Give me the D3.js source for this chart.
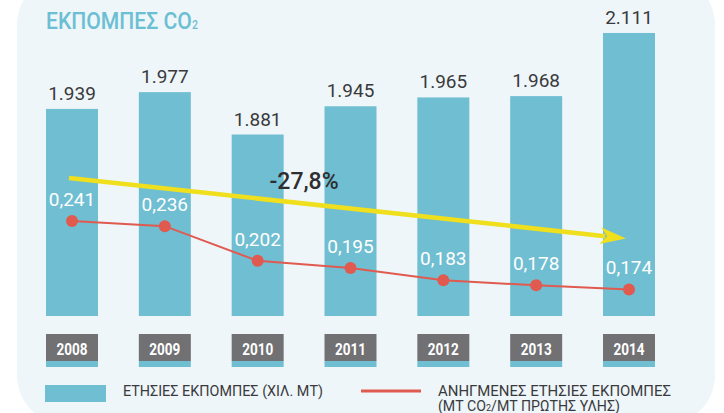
<!DOCTYPE html>
<html>
<head>
<meta charset="utf-8">
<script src="https://cdn.jsdelivr.net/npm/d3@7"></script>
<style>
  html, body { margin: 0; padding: 0; background: #fff; }
  svg { display: block; }
  .narrow { font-family: Roboto, 'Noto Sans', sans-serif; }
  .num { font-family: Roboto, 'Noto Sans', sans-serif; }
</style>
</head>
<body>
<svg id="chart"></svg>
<script>
// data
const years = ["2008", "2009", "2010", "2011", "2012", "2013", "2014"];
const emissions = [1939, 1977, 1881, 1945, 1965, 1968, 2111];   // χιλ. ΜΤ
const intensity = [0.241, 0.236, 0.202, 0.195, 0.183, 0.178, 0.174]; // ΜΤ CO2 / ΜΤ πρώτης ύλης

const width = 724;
const height = 413;
const barColor = "#70bed1";
const lineColor = "#e05a50";
const textDark = "#3a3a3c";

const locale = d3.formatLocale({decimal: ",", thousands: ".", grouping: [3], currency: ["", "€"], minus: "-"});
const fmtInt = locale.format(",d");
const fmt3 = locale.format(".3f");
const fmt1 = locale.format(".1f");

const svg = d3.select("#chart")
    .attr("width", width)
    .attr("height", height);

// panel background
svg.append("rect")
    .attr("x", 17)
    .attr("y", -25)
    .attr("width", 698)
    .attr("height", 450)
    .attr("rx", 50)
    .attr("fill", "#eef6fa");

// title, squeezed horizontally to look condensed
const titleG = svg.append("g");
const title = titleG.append("text")
    .attr("class", "narrow")
    .attr("font-size", 24)
    .attr("font-weight", 500)
    .attr("fill", "#6cbfd3");
title.append("tspan").text("ΕΚΠΟΜΠΕΣ CO");
title.append("tspan").attr("font-size", 12).text("2");
const tw = title.node().getComputedTextLength();
titleG.attr("transform", `translate(46,29) scale(${152 / tw},1)`);

var x = d3.scaleBand()
    .domain(years)
    .range([46, 655])
    .paddingInner(0.44)
    .paddingOuter(0);

var yBar = d3.scaleLinear().domain([1470, 2120]).range([316, 29]);
var yLine = d3.scaleLinear().domain([0.17, 0.245]).range([293.5, 217]);

const rows = years.map((y, i) => ({year: y, value: emissions[i], ratio: intensity[i]}));

// bars
svg.selectAll(".bar")
    .data(rows)
    .enter()
    .append("rect")
    .attr("class", "bar")
    .attr("x", d => x(d.year))
    .attr("y", d => yBar(d.value))
    .attr("width", x.bandwidth())
    .attr("height", d => yBar.range()[0] - yBar(d.value))
    .attr("fill", barColor);

svg.selectAll(".barLabel")
    .data(rows)
    .enter()
    .append("text")
    .attr("class", "barLabel num")
    .attr("x", d => x(d.year) + x.bandwidth() / 2)
    .attr("y", d => yBar(d.value) - 9)
    .attr("text-anchor", "middle")
    .attr("font-size", 19)
    .attr("fill", textDark)
    .text(d => fmtInt(d.value));

// year boxes
const yearBox = svg.selectAll(".yearBox")
    .data(rows)
    .enter()
    .append("g")
    .attr("class", "yearBox")
    .attr("transform", d => `translate(${x(d.year)},334)`);
yearBox.append("rect")
    .attr("width", x.bandwidth())
    .attr("height", 27)
    .attr("fill", "#717174");
yearBox.append("rect")
    .attr("y", 27)
    .attr("width", x.bandwidth())
    .attr("height", 6)
    .attr("fill", barColor);
yearBox.append("text")
    .attr("class", "narrow")
    .attr("x", (x.bandwidth() - 31) / 2)
    .attr("y", 21)
    .attr("font-size", 16)
    .attr("font-weight", "bold")
    .attr("fill", "#fff")
    .attr("textLength", 31)
    .attr("lengthAdjust", "spacingAndGlyphs")
    .text(d => d.year);

// trend arrow
const cx = d => x(d) + x.bandwidth() / 2;
const ax0 = cx(years[0]) - 3, ay0 = yLine(intensity[0]) - 43;
const ax1 = cx(years[years.length - 1]) - 3, ay1 = yLine(intensity[intensity.length - 1]) - 51;
const ang = Math.atan2(ay1 - ay0, ax1 - ax0);
const headLen = 23, headHalf = 8.5;
const bx = ax1 - headLen * Math.cos(ang), by = ay1 - headLen * Math.sin(ang);
svg.append("line")
    .attr("x1", ax0).attr("y1", ay0)
    .attr("x2", bx + 2 * Math.cos(ang)).attr("y2", by + 2 * Math.sin(ang))
    .attr("stroke", "#efdf1d")
    .attr("stroke-width", 4.5);
svg.append("path")
    .attr("d", d3.line()([
        [ax1, ay1],
        [bx - headHalf * Math.sin(ang) - 3 * Math.cos(ang), by + headHalf * Math.cos(ang) - 3 * Math.sin(ang)],
        [bx + 4 * Math.cos(ang), by + 4 * Math.sin(ang)],
        [bx + headHalf * Math.sin(ang) - 3 * Math.cos(ang), by - headHalf * Math.cos(ang) - 3 * Math.sin(ang)]
    ]) + "Z")
    .attr("fill", "#efdf1d");

const change = (intensity[intensity.length - 1] / intensity[0] - 1) * 100;
const px = (cx(years[2]) + cx(years[3])) / 2;
svg.append("text")
    .attr("class", "num")
    .attr("x", px)
    .attr("y", ay0 + (px - ax0) * Math.tan(ang) - 15)
    .attr("text-anchor", "middle")
    .attr("font-size", 23)
    .attr("font-weight", 500)
    .attr("fill", "#2e2e30")
    .text(fmt1(change) + "%");

// intensity line
svg.append("path")
    .datum(rows)
    .attr("fill", "none")
    .attr("stroke", lineColor)
    .attr("stroke-width", 2)
    .attr("d", d3.line().x(d => cx(d.year)).y(d => yLine(d.ratio)));

svg.selectAll(".dot")
    .data(rows)
    .enter()
    .append("circle")
    .attr("class", "dot")
    .attr("cx", d => cx(d.year))
    .attr("cy", d => yLine(d.ratio))
    .attr("r", 6)
    .attr("fill", lineColor);

svg.selectAll(".dotLabel")
    .data(rows)
    .enter()
    .append("text")
    .attr("class", "dotLabel num")
    .attr("x", d => cx(d.year))
    .attr("y", d => yLine(d.ratio) - 15)
    .attr("text-anchor", "middle")
    .attr("font-size", 19)
    .attr("fill", "#fff")
    .text(d => fmt3(d.ratio));

// legend
svg.append("rect")
    .attr("x", 45).attr("y", 385)
    .attr("width", 61).attr("height", 17)
    .attr("fill", barColor);
svg.append("text")
    .attr("class", "narrow")
    .attr("x", 123).attr("y", 396)
    .attr("font-size", 14)
    .attr("fill", textDark)
    .attr("textLength", 200)
    .attr("lengthAdjust", "spacingAndGlyphs")
    .text("ΕΤΗΣΙΕΣ ΕΚΠΟΜΠΕΣ (ΧΙΛ. ΜΤ)");

svg.append("line")
    .attr("x1", 361).attr("x2", 421)
    .attr("y1", 391).attr("y2", 391)
    .attr("stroke", lineColor)
    .attr("stroke-width", 3);
svg.append("text")
    .attr("class", "narrow")
    .attr("x", 438).attr("y", 396)
    .attr("font-size", 14)
    .attr("fill", textDark)
    .attr("textLength", 233)
    .attr("lengthAdjust", "spacingAndGlyphs")
    .text("ΑΝΗΓΜΕΝΕΣ ΕΤΗΣΙΕΣ ΕΚΠΟΜΠΕΣ");
const l2 = svg.append("text")
    .attr("class", "narrow")
    .attr("x", 438).attr("y", 411)
    .attr("font-size", 14)
    .attr("fill", textDark)
    .attr("textLength", 182)
    .attr("lengthAdjust", "spacingAndGlyphs");
l2.append("tspan").text("(ΜΤ CO");
l2.append("tspan").attr("font-size", 9).text("2");
l2.append("tspan").text("/ΜΤ ΠΡΩΤΗΣ ΥΛΗΣ)");
</script>
</body>
</html>
